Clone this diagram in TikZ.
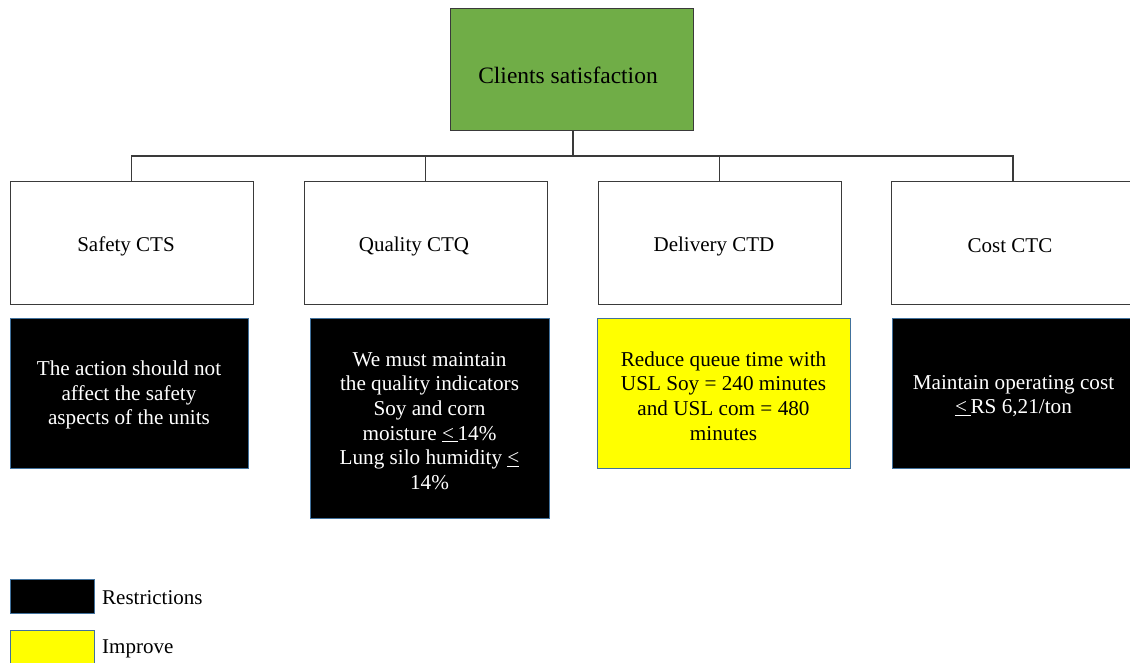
\documentclass[tikz,border=0pt]{standalone}
\usepackage{fontspec}
\setmainfont{Liberation Serif}
\definecolor{boxgreen}{HTML}{70AD47}
\definecolor{edgeblue}{HTML}{41719C}
\definecolor{linegray}{HTML}{3A3A3A}
\definecolor{pureyellow}{RGB}{255,255,0}
\begin{document}
\begin{tikzpicture}[x=1pt,y=-1pt,
  topbox/.style={draw=linegray,line width=1pt,fill=white,minimum width=243pt,minimum height=122pt,inner sep=0pt},
  toptext/.style={font=\fontsize{21}{24}\selectfont,inner sep=0pt},
  goalbox/.style={draw=linegray,line width=1pt,fill=boxgreen,minimum width=243pt,minimum height=122pt,inner sep=0pt},
  goaltext/.style={font=\fontsize{23.5}{27}\selectfont,inner sep=0pt},
  restrict/.style={draw=edgeblue,line width=1pt,fill=black,inner sep=0pt},
  improve/.style={draw=edgeblue,line width=1pt,fill=pureyellow,inner sep=0pt},
  bodytext/.style={align=center,font=\fontsize{21.2}{24.6}\selectfont,inner sep=0pt},
  legtext/.style={anchor=west,font=\fontsize{21}{24}\selectfont,inner sep=0pt},
  conn/.style={draw=linegray,line width=1.2pt}
]
\clip (0,0) rectangle (1130,663);
\fill[white] (0,0) rectangle (1130,663);

\node[goalbox] (goal) at (571.5,70) {};
\node[goaltext] (goalt) at (568,75) {Clients satisfaction};

\node[topbox] (cts) at (131.5,243) {};
\node[topbox] (ctq) at (425.5,243) {};
\node[topbox] (ctd) at (719.5,243) {};
\node[topbox] (ctc) at (1013,243) {};
\node[toptext] (ctst) at (126,246) {Safety CTS};
\node[toptext] (ctqt) at (414,246) {Quality CTQ};
\node[toptext] (ctdt) at (714,246) {Delivery CTD};
\node[toptext] (ctct) at (1010,246) {Cost CTC};

\coordinate (bus) at (573,156);
\draw[conn] (goal.south -| bus) -- (bus);
\draw[conn] (cts.north) |- (bus);
\draw[conn] (ctq.north) |- (bus);
\draw[conn] (ctd.north) |- (bus);
\draw[conn] (ctc.north) |- (bus);

\node[restrict,minimum width=238pt,minimum height=150pt] (rcts) at (129,393) {};
\node[bodytext,text=white] (rctst) at (129,395)
  {The action should not\\affect the safety\\aspects of the units};
\node[restrict,minimum width=239pt,minimum height=200pt] (rctq) at (429.5,418) {};
\node[bodytext,text=white] (rctqt) at (429.5,421)
  {We must maintain\\the quality indicators\\Soy and corn\\moisture \underline{<\,}14\%\\Lung silo humidity \underline{<}\\14\%};
\node[improve,minimum width=253pt,minimum height=150pt] (ictd) at (723.5,393) {};
\node[bodytext,text=black] (ictdt) at (723.5,396)
  {Reduce queue time with\\USL Soy = 240 minutes\\and USL com = 480\\minutes};
\node[restrict,minimum width=243pt,minimum height=150pt] (rctc) at (1013.5,393) {};
\node[bodytext,text=white] (rctct) at (1013.5,396)
  {Maintain operating cost\\\underline{<\,}RS 6,21/ton};

\node[restrict,minimum width=84pt,minimum height=34pt] (legr) at (52,596) {};
\node[legtext] (legrt) at (102,598) {Restrictions};
\node[improve,minimum width=84pt,minimum height=34pt] (legi) at (52,647) {};
\node[legtext] (legit) at (102,649) {Improve};
\end{tikzpicture}
\end{document}
